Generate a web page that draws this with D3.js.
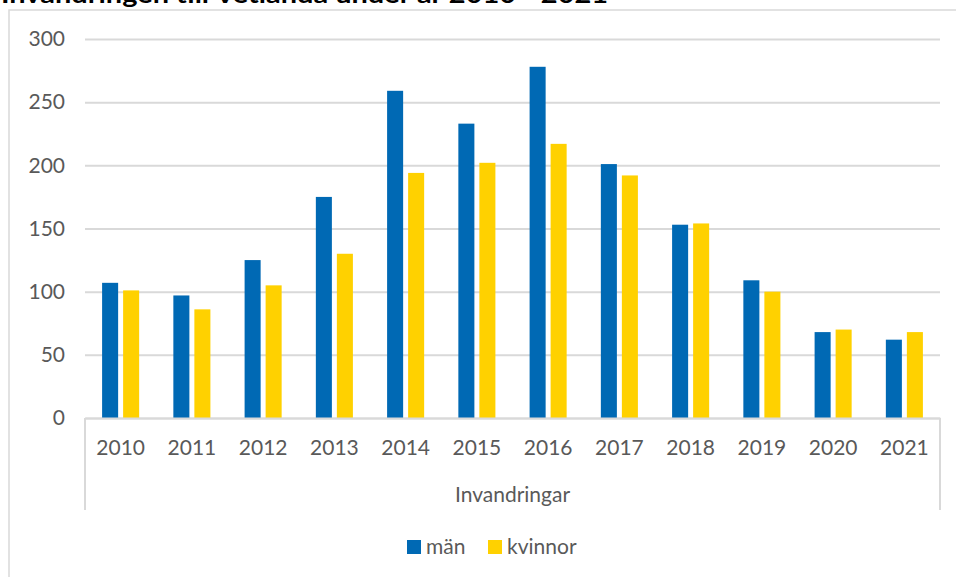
<!DOCTYPE html>
<html>
<head>
<meta charset="utf-8">
<script src="https://cdn.jsdelivr.net/npm/d3@7"></script>
<style>
  html, body { margin: 0; padding: 0; background: #fff; }
  svg { display: block; font-family: Lato, "Open Sans", sans-serif; }
</style>
</head>
<body>
<svg id="chart" width="956" height="577"></svg>
<script>
const years = ['2010','2011','2012','2013','2014','2015','2016','2017','2018','2019','2020','2021']
const man = [107, 97, 125, 175, 259, 233, 278, 201, 153, 109, 68, 62]
const kvinnor = [101, 86, 105, 130, 194, 202, 217, 192, 154, 100, 70, 68]
const seriesNames = ['män', 'kvinnor']
const yTicks = [0, 50, 100, 150, 200, 250, 300]
const groupLabel = 'Invandringar'
const title = 'Invandringen till Vetlanda under år 2010 - 2021'

const colors = ['#0069b4', '#ffd100']
const textColor = '#595959'
const gridColor = '#d9d9d9'
const fontSize = 21

const svg = d3.select('#chart')
const plotLeft = 85, plotRight = 940, plotTop = 39, plotBottom = 418

// chart frame (right edge falls outside the picture)
svg.append('rect')
    .attr('x', 9).attr('y', 10)
    .attr('width', 960).attr('height', 600)
    .attr('fill', 'none')
    .attr('stroke', gridColor)
    .attr('stroke-width', 1.5)

// title, mostly cut off at the top like in the source
svg.append('text')
    .attr('x', 1).attr('y', 3)
    .attr('font-size', 24)
    .attr('font-weight', 'bold')
    .attr('fill', '#000')
    .attr('textLength', 607)
    .attr('lengthAdjust', 'spacingAndGlyphs')
    .text(title)

const x = d3.scaleBand().domain(years).range([plotLeft, plotRight])
const y = d3.scaleLinear().domain([0, 300]).range([plotBottom, plotTop])

// gridlines + y labels
const yAxis = d3.axisLeft(y).tickValues(yTicks).tickSize(-(plotRight - plotLeft)).tickPadding(20)
const gy = svg.append('g').attr('transform', `translate(${plotLeft},0)`).call(yAxis)
gy.select('.domain').remove()
gy.selectAll('.tick line').attr('stroke', gridColor).attr('stroke-width', 2)
gy.selectAll('.tick text')
    .attr('fill', textColor)
    .attr('font-size', fontSize)
    .attr('font-family', 'Lato, sans-serif')

// bars
const bw = x.bandwidth() * 0.225
const gap = x.bandwidth() * 0.07
const data = [man, kvinnor]
data.forEach((vals, si) => {
    svg.append('g')
        .selectAll('rect')
        .data(vals)
        .join('rect')
        .attr('x', (d, i) => x(years[i]) + x.bandwidth() / 2 + (si === 0 ? -gap / 2 - bw : gap / 2))
        .attr('y', d => y(d))
        .attr('width', bw)
        .attr('height', d => y(0) - y(d))
        .attr('fill', colors[si])
})

// category axis with second level
const xAxis = d3.axisBottom(x).tickSize(0).tickPadding(22)
const gx = svg.append('g').attr('transform', `translate(0,${plotBottom})`).call(xAxis)
gx.select('.domain').attr('stroke', gridColor).attr('stroke-width', 2)
gx.selectAll('.tick text')
    .attr('fill', textColor)
    .attr('font-size', fontSize)
    .attr('font-family', 'Lato, sans-serif')

;[plotLeft, plotRight].forEach(xx => {
    svg.append('line')
        .attr('x1', xx).attr('x2', xx)
        .attr('y1', plotBottom).attr('y2', 510)
        .attr('stroke', gridColor).attr('stroke-width', 2)
})

svg.append('text')
    .attr('x', (plotLeft + plotRight) / 2).attr('y', 502)
    .attr('text-anchor', 'middle')
    .attr('fill', textColor)
    .attr('font-size', fontSize)
    .text(groupLabel)

// legend
const legend = svg.append('g').attr('transform', 'translate(407,540)')
const legendX = [0, 81]
seriesNames.forEach((name, i) => {
    const g = legend.append('g').attr('transform', `translate(${legendX[i]},0)`)
    g.append('rect').attr('width', 14).attr('height', 14).attr('fill', colors[i])
    g.append('text')
        .attr('x', 19).attr('y', 14)
        .attr('fill', textColor)
        .attr('font-size', fontSize)
        .text(name)
})
</script>
</body>
</html>
